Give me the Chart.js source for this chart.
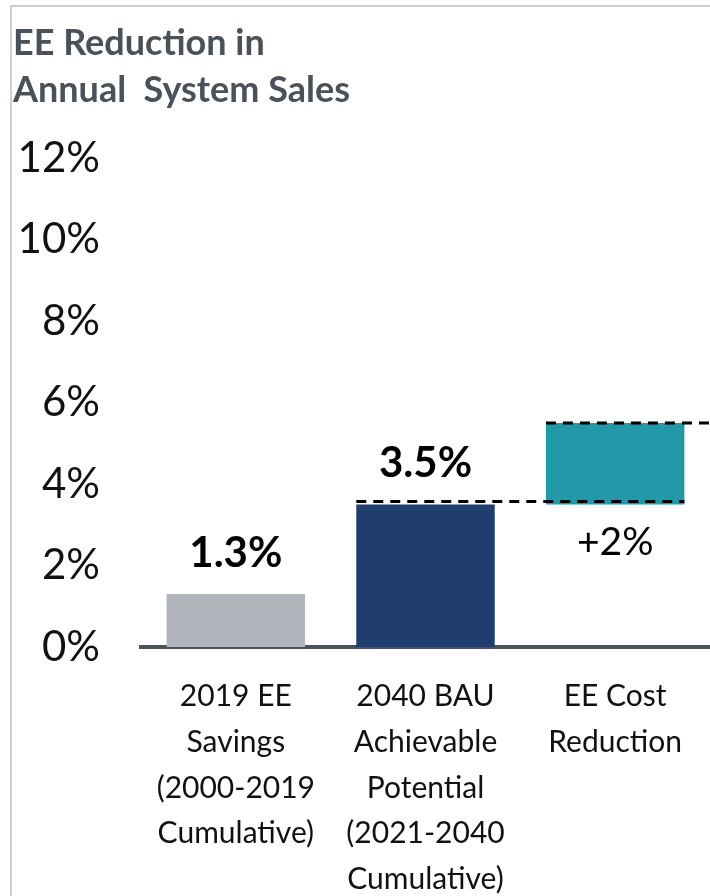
<!DOCTYPE html>
<html>
<head>
<meta charset="utf-8">
<script src="https://cdn.jsdelivr.net/npm/chart.js@4"></script>
<style>
  body { margin: 0; background: #fff; }
  #wrap { position: relative; width: 710px; height: 896px; overflow: hidden; }
  #frame { position: absolute; left: 10px; top: 5px; right: -10px; bottom: -10px;
           border-left: 2px solid #cfcfcf; border-top: 2px solid #cfcfcf; }
  #chart { position: absolute; left: 0; top: 0; }
</style>
</head>
<body>
<div id="wrap">
  <div id="frame"></div>
  <canvas id="chart" width="710" height="896"></canvas>
</div>
<script>
// data
const categories = [
  ["2019 EE", "Savings", "(2000-2019", "Cumulative)"],
  ["2040 BAU", "Achievable", "Potential", "(2021-2040", "Cumulative)"],
  ["EE Cost", "Reduction"]
];
const barStart = [0, 0, 3.5];
const barEnd = [1.3, 3.5, 5.5];
const barLabels = ["1.3%", "3.5%", "+2%"];
const barColors = ["#b1b5bb", "#1f3d6e", "#2398a8"];
const yTicks = [0, 2, 4, 6, 8, 10, 12];
const titleLines = ["EE Reduction in", "Annual  System Sales"];

const FONT = "Lato, 'Open Sans', sans-serif";

let floating = [];
for (let i = 0; i < categories.length; i++) {
  floating.push([barStart[i], barEnd[i]]);
}

// title, value labels and dashed connectors
const extras = {
  id: "extras",
  afterDraw(chart) {
    const c = chart.ctx;
    const y = chart.scales.y;
    const bars = chart.getDatasetMeta(0).data;

    c.save();
    c.fillStyle = "#4b5158";
    c.font = "bold 36px " + FONT;
    c.textAlign = "left";
    c.textBaseline = "alphabetic";
    c.fillText(titleLines[0], 13, 55);
    c.fillText(titleLines[1], 13, 102);

    c.fillStyle = "#000";
    c.textAlign = "center";
    c.textBaseline = "middle";
    bars.forEach((b, i) => {
      if (barStart[i] > 0) {
        c.font = "39px " + FONT;
        c.fillText(barLabels[i], b.x, y.getPixelForValue(barStart[i]) + 38);
      } else {
        c.font = "bold 42px " + FONT;
        c.fillText(barLabels[i], b.x, y.getPixelForValue(barEnd[i]) - 41);
      }
    });

    // connectors only where a bar starts on top of the previous one
    c.strokeStyle = "#000";
    c.lineWidth = 3;
    c.setLineDash([10, 7]);
    for (let i = 1; i < bars.length; i++) {
      if (barStart[i] === 0) continue;
      const yy = y.getPixelForValue(barStart[i]) - 3;
      c.beginPath();
      c.moveTo(bars[i - 1].x - bars[i - 1].width / 2, yy);
      c.lineTo(bars[i].x + bars[i].width / 2, yy);
      c.stroke();
    }
    const last = bars[bars.length - 1];
    const yTop = y.getPixelForValue(barEnd[barEnd.length - 1]);
    c.beginPath();
    c.moveTo(last.x - last.width / 2, yTop);
    c.lineTo(chart.chartArea.right, yTop);
    c.stroke();
    c.restore();
  }
};

new Chart(document.getElementById("chart"), {
  type: "bar",
  data: {
    labels: categories,
    datasets: [{
      data: floating,
      backgroundColor: barColors,
      borderWidth: 0,
      barPercentage: 0.73,
      categoryPercentage: 1
    }]
  },
  options: {
    responsive: false,
    animation: false,
    devicePixelRatio: 1,
    layout: { padding: { top: 158, left: 0, right: 0, bottom: 0 } },
    plugins: { legend: { display: false }, tooltip: { enabled: false } },
    scales: {
      x: {
        grid: { display: false },
        border: { display: true, color: "#4b5159", width: 4 },
        ticks: {
          color: "#111",
          padding: 19,
          maxRotation: 0,
          autoSkip: false,
          font: { family: FONT, size: 30, lineHeight: 1.52 }
        },
        afterFit: s => { s.height = 249; }
      },
      y: {
        min: 0,
        max: 12,
        grid: { display: false },
        border: { display: false },
        afterBuildTicks: s => { s.ticks = yTicks.map(v => ({ value: v })); },
        ticks: {
          color: "#111",
          padding: 33,
          font: { family: FONT, size: 42 },
          callback: v => v + "%"
        },
        afterFit: s => { s.width = 141; }
      }
    }
  },
  plugins: [extras]
});
</script>
</body>
</html>
